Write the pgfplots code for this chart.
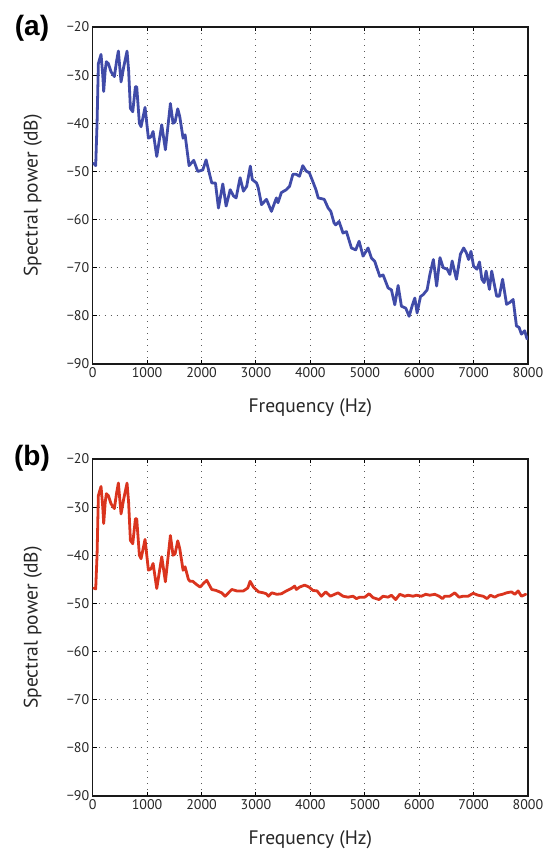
\documentclass[border=0pt]{standalone}
\usepackage{fontspec}
\setmainfont{PT Sans}
\newfontfamily\labfont{Liberation Sans}
\usepackage{pgfplots}
\pgfplotsset{compat=1.18}
\definecolor{cblue}{RGB}{64,75,168}
\definecolor{cred}{RGB}{218,52,30}
\pgfplotsset{
  spec/.style={
    scale only axis, width=435.3pt, height=337pt,
    xmin=0, xmax=8000, ymin=-90, ymax=-20,
    xtick={0,1000,...,8000},
    xticklabels={0,1000,2000,3000,4000,5000,6000,7000,8000},
    ytick={-90,-80,...,-20},
    yticklabels={−90,−80,−70,−60,−50,−40,−30,−20},
    tick label style={font=\fontsize{14}{14}\selectfont, text=black!85},
    label style={font=\fontsize{19.5}{20}\selectfont, text=black!85},
    xlabel={Frequency (Hz)},
    ylabel={Spectral power (dB)},
    xlabel style={at={(rel axis cs:0.5,-0.1306)}, anchor=center},
    ylabel style={at={(rel axis cs:-0.1378,0.5)}, anchor=center, rotate=0},
    grid=major,
    major grid style={black!65, line width=0.9pt, dash pattern=on 0.9pt off 5.1pt},
    tick align=inside, major tick length=4pt,
    tick style={black, line width=1pt},
    axis line style={line width=1.4pt, black!90},
    clip=true,
  }
}
\pgfplotstableread{
f db
18 -48.3
55 -48.8
80 -40
104 -27.6
153 -25.7
185 -30
202 -33.4
230 -29
251 -27.2
288 -27.6
337 -29.3
398 -30.3
440 -27
472 -25.0
521 -31.4
570 -28.3
631 -25.0
660 -29
693 -36.9
736 -37.6
785 -32.4
809 -32.4
858 -40.0
889 -40.7
962 -36.7
1024 -43.1
1073 -42.8
1110 -41.7
1177 -46.9
1269 -40.3
1336 -45.5
1428 -35.9
1477 -40.0
1514 -39.7
1563 -37.0
1600 -38.6
1661 -43.1
1698 -42.4
1771 -48.8
1857 -47.7
1931 -50.0
2023 -49.7
2084 -47.6
2188 -52.4
2256 -52.4
2311 -57.6
2391 -52.6
2452 -57.2
2527 -53.8
2588 -55.1
2636 -55.5
2709 -51.3
2770 -54.1
2830 -53.1
2897 -48.9
2933 -51.7
3012 -52.4
3042 -53.4
3103 -56.9
3194 -55.8
3285 -58.3
3376 -55.5
3406 -56.5
3467 -54.4
3558 -53.8
3618 -53.1
3679 -50.6
3739 -50.6
3800 -51.0
3861 -48.8
3921 -49.9
3982 -50.3
4042 -52.0
4103 -53.8
4145 -55.5
4255 -55.8
4327 -57.6
4376 -58.3
4436 -60.7
4466 -61.1
4528 -60.4
4600 -62.8
4663 -62.5
4755 -65.9
4834 -66.3
4896 -64.5
4969 -67.6
5061 -65.9
5123 -68.0
5184 -68.7
5276 -71.8
5337 -71.5
5429 -74.2
5490 -74.6
5552 -77.7
5613 -73.7
5674 -78.0
5754 -78.4
5815 -80.1
5877 -77.7
5920 -76.3
5962 -79.4
6024 -76.0
6073 -75.6
6146 -74.6
6195 -71.5
6261 -68.3
6321 -73.8
6382 -67.9
6442 -70.0
6515 -70.3
6564 -71.4
6606 -68.6
6685 -72.4
6758 -67.2
6818 -65.9
6867 -66.9
6909 -68.3
6952 -66.6
7000 -69.7
7061 -70.3
7109 -68.8
7152 -72.4
7194 -73.1
7230 -70.7
7291 -74.5
7333 -70.7
7424 -75.9
7473 -75.9
7533 -72.4
7606 -77.6
7667 -77.2
7727 -76.6
7788 -82.1
7836 -82.4
7879 -83.8
7939 -83.1
7982 -84.8
}\dataA
\pgfplotstableread{
f db
18 -46.8
55 -47.0
80 -40
104 -27.6
153 -25.7
185 -30
202 -33.4
230 -29
251 -27.2
288 -27.6
337 -29.3
398 -30.3
440 -27
472 -25.0
521 -31.4
570 -28.3
631 -25.0
660 -29
693 -36.9
736 -37.6
785 -32.4
809 -32.4
858 -40.0
889 -40.7
962 -36.7
1024 -43.1
1073 -42.8
1110 -41.7
1177 -46.9
1269 -40.3
1336 -45.5
1428 -35.9
1477 -40.0
1514 -39.7
1563 -37.0
1600 -38.6
1661 -43.1
1698 -42.4
1759 -45.0
1790 -45.4
1839 -45.4
1900 -46.0
1974 -46.6
2040 -45.8
2096 -45.2
2188 -47.1
2268 -47.3
2372 -47.8
2433 -48.5
2556 -47.1
2648 -47.4
2771 -47.4
2850 -46.8
2893 -45.4
2954 -46.6
3047 -47.6
3139 -47.8
3191 -48.0
3231 -48.5
3292 -47.8
3384 -48.1
3467 -48.0
3559 -47.4
3651 -46.9
3712 -46.4
3743 -47.1
3804 -46.6
3896 -46.2
3975 -46.6
4049 -47.3
4123 -47.4
4202 -48.5
4282 -47.6
4368 -48.5
4448 -48.1
4509 -47.8
4601 -48.5
4693 -48.7
4785 -48.5
4846 -49.0
4908 -48.7
5000 -48.7
5079 -48.0
5153 -48.8
5263 -49.2
5336 -48.5
5429 -48.7
5490 -48.3
5569 -49.2
5643 -48.1
5735 -48.5
5796 -48.3
5888 -48.5
5949 -48.3
6041 -48.5
6121 -48.1
6195 -48.3
6287 -48.1
6366 -48.5
6428 -49.0
6470 -48.5
6562 -48.5
6654 -47.8
6734 -48.7
6808 -48.5
6900 -48.5
6992 -47.9
7084 -48.3
7176 -48.5
7249 -49.0
7310 -48.3
7390 -48.7
7451 -48.3
7531 -48.1
7605 -47.8
7697 -47.6
7758 -48.1
7819 -47.4
7880 -48.5
7960 -48.1
}\dataB
\begin{document}
\begin{tikzpicture}[x=1pt,y=1pt]
\path[use as bounding box] (0,0) rectangle (543,853);
\begin{axis}[spec, at={(92.7pt,489pt)}, anchor=south west]
\addplot[cblue, line width=2.8pt, line join=round, line cap=round] table[x=f,y=db] {\dataA};
\end{axis}
\begin{axis}[spec, at={(92.7pt,57pt)}, anchor=south west]
\addplot[cred, line width=2.8pt, line join=round, line cap=round] table[x=f,y=db] {\dataB};
\end{axis}
\node[font=\labfont\bfseries\fontsize{28}{28}\selectfont] at (32,825) {(a)};
\node[font=\labfont\bfseries\fontsize{28}{28}\selectfont] at (32,395) {(b)};
\end{tikzpicture}
\end{document}
